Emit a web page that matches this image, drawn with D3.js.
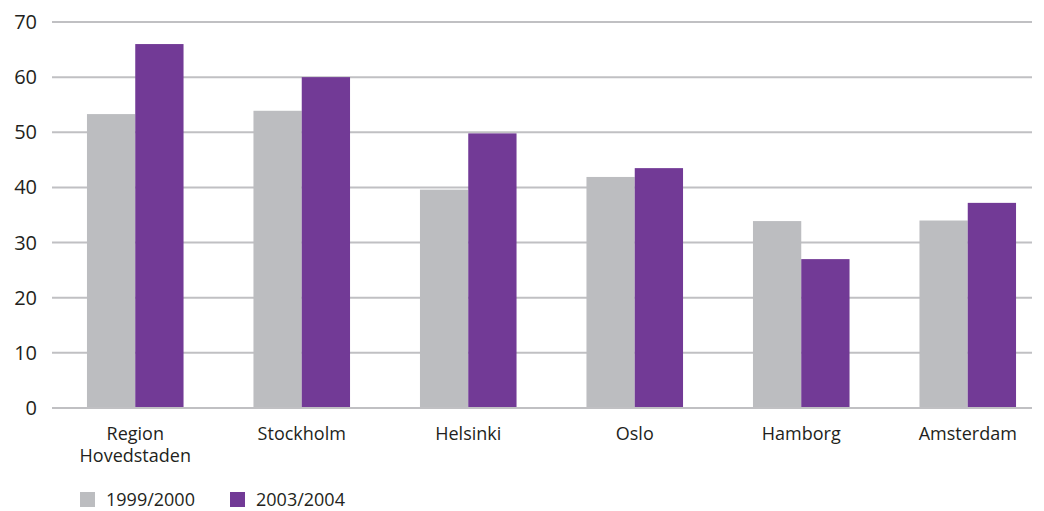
<!DOCTYPE html>
<html>
<head>
<meta charset="utf-8">
<script src="https://cdn.jsdelivr.net/npm/d3@7"></script>
<style>
  body { margin: 0; background: #fff; }
  text { font-family: "Open Sans", "Noto Sans", sans-serif; fill: #231f20; }
</style>
</head>
<body>
<script>
// data
const cities = ["Region\nHovedstaden", "Stockholm", "Helsinki", "Oslo", "Hamborg", "Amsterdam"];
const seriesNames = ["1999/2000", "2003/2004"];
const v1999 = [53.3, 53.9, 39.6, 41.9, 33.9, 34.0];
const v2003 = [66.0, 60.0, 49.8, 43.5, 27.0, 37.2];
const yTicks = [0, 10, 20, 30, 40, 50, 60, 70];
const colors = ["#bcbdc0", "#723a96"];

const w = 1044, h = 511;
const svg = d3.select("body").append("svg").attr("width", w).attr("height", h);

const x = d3.scaleBand().domain(cities).range([52, 1051]).paddingInner(0.42).paddingOuter(0.21);
const xs = d3.scaleBand().domain(seriesNames).range([0, x.bandwidth()]);
const y = d3.scaleLinear().domain([0, 70]).range([408, 22]);

// gridlines
svg.append("g").selectAll("line").data(yTicks).enter().append("line")
  .attr("x1", 52).attr("x2", 1032)
  .attr("y1", d => y(d)).attr("y2", d => y(d))
  .attr("stroke", "#c0c0c3").attr("stroke-width", 2);

// y labels
svg.append("g").selectAll("text").data(yTicks).enter().append("text")
  .attr("x", 37).attr("y", d => y(d) + 7)
  .attr("text-anchor", "end").attr("font-size", 20)
  .text(d => d);

const rows = cities.map((c, i) => ({city: c, vals: [v1999[i], v2003[i]]}));

const groups = svg.append("g").selectAll("g").data(rows).enter().append("g")
  .attr("transform", d => "translate(" + x(d.city) + ",0)");
groups.selectAll("rect").data(d => d.vals.map((v, j) => ({s: seriesNames[j], v: v, j: j}))).enter().append("rect")
  .attr("x", d => xs(d.s)).attr("width", xs.bandwidth())
  .attr("y", d => y(d.v)).attr("height", d => y(0) - y(d.v) - 1)
  .attr("fill", d => colors[d.j]);

// category labels
const lab = svg.append("g").selectAll("text").data(cities).enter().append("text")
  .attr("x", d => x(d) + x.bandwidth() / 2).attr("y", 440)
  .attr("text-anchor", "middle").attr("font-size", 18);
lab.selectAll("tspan").data(d => d.split("\n")).enter().append("tspan")
  .attr("x", function() { return d3.select(this.parentNode).attr("x"); })
  .attr("dy", (d, i) => i === 0 ? 0 : 22)
  .text(d => d);

// legend
const leg = svg.append("g").selectAll("g").data(seriesNames).enter().append("g")
  .attr("transform", (d, i) => "translate(" + (80 + i * 150) + ",492)");
leg.append("rect").attr("width", 15).attr("height", 15).attr("fill", (d, i) => colors[i]);
leg.append("text").attr("x", 26).attr("y", 14).attr("font-size", 18).text(d => d);
</script>
</body>
</html>
